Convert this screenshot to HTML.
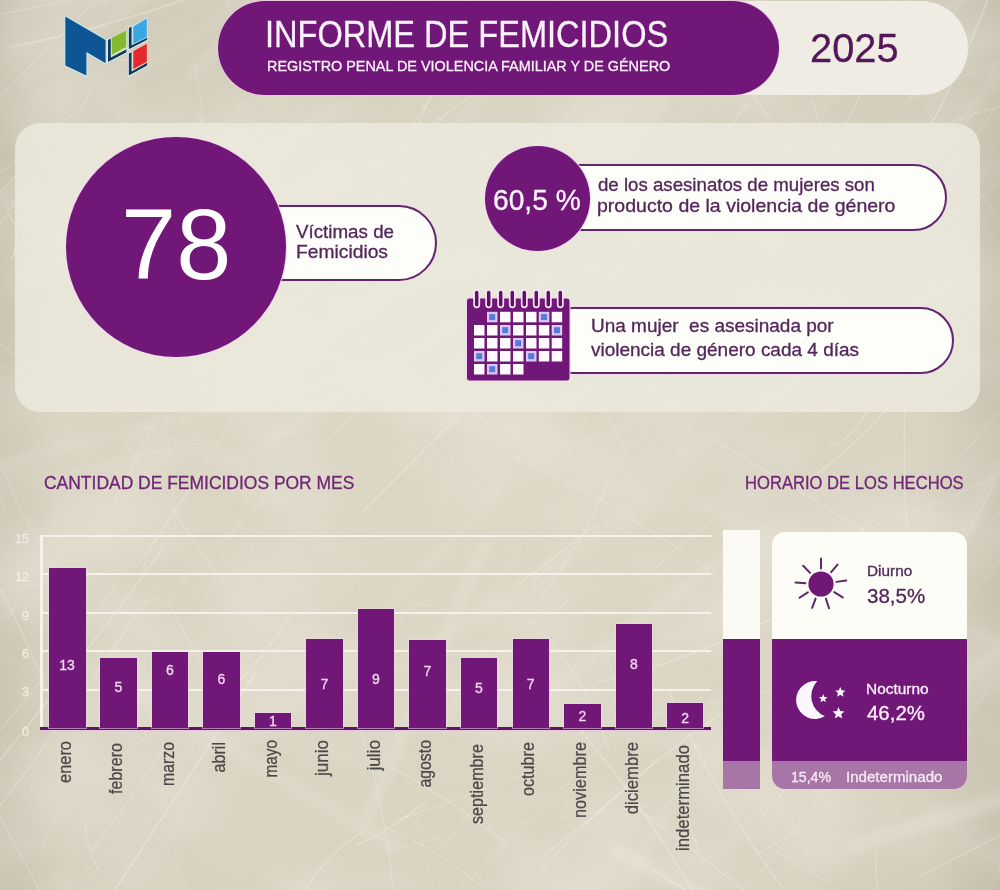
<!DOCTYPE html>
<html lang="es"><head><meta charset="utf-8"><title>Informe de Femicidios 2025</title>
<style>
html,body{margin:0;padding:0}
body{width:1000px;height:890px;position:relative;overflow:hidden;background:#d6d1c3;font-family:"Liberation Sans",sans-serif;}
.abs{position:absolute}
.t{position:absolute;white-space:nowrap;line-height:1;transform-origin:0 0}
#bg{position:absolute;left:0;top:0;width:1000px;height:890px}
.panel{position:absolute;left:15px;top:123px;width:965px;height:289px;border-radius:25px;background:rgba(236,235,223,.8)}
.pill{position:absolute;background:#fdfdf9;border:2px solid #5f2867;box-shadow:0 0 0 1px #f0d8ee;box-sizing:border-box}
.circ{position:absolute;border-radius:50%;background:#711778;box-shadow:0 0 0 1px #f3d6f1}
.bar{position:absolute;background:#711778;box-shadow:0 0 0 1px rgba(240,214,236,.55)}
.bl{position:absolute;color:#f3d6f2;font-size:14px;line-height:14px;height:14px;text-align:center;-webkit-text-stroke:0.3px #f3d6f2}
.xl{position:absolute;color:#4b4848;font-size:18px;line-height:20px;height:20px;white-space:nowrap;transform-origin:100% 50%;transform:rotate(-90deg);text-align:right;-webkit-text-stroke:0.25px #4b4848}
.yl{position:absolute;color:#efede2;font-size:12.5px;line-height:12px;width:22px;left:7px;text-align:right;-webkit-text-stroke:0.3px #efede2}
.grid{position:absolute;left:40px;width:671px;height:2px;background:#f4f2ea}
</style></head><body>
<svg id="bg" viewBox="0 0 1000 890">
<defs>
<radialGradient id="g1" cx="48%" cy="58%" r="75%"><stop offset="0" stop-color="#ddd7c6"/><stop offset="0.6" stop-color="#d9d3c2"/><stop offset="1" stop-color="#cec8b6"/></radialGradient>
<filter id="mot" x="0" y="0" width="100%" height="100%"><feTurbulence type="fractalNoise" baseFrequency="0.006 0.008" numOctaves="3" seed="11" result="n"/><feColorMatrix type="matrix" values="0 0 0 0 1  0 0 0 0 0.99  0 0 0 0 0.94  1.6 0 0 0 -0.62"/></filter>
<linearGradient id="g2" x1="0" x2="1" y1="0" y2="0"><stop offset="0" stop-color="#6b6450" stop-opacity=".10"/><stop offset="0.06" stop-color="#6b6450" stop-opacity="0"/><stop offset="0.93" stop-color="#6b6450" stop-opacity="0"/><stop offset="1" stop-color="#6b6450" stop-opacity=".12"/></linearGradient>
<filter id="bl"><feGaussianBlur stdDeviation="0.6"/></filter>
<filter id="bl2"><feGaussianBlur stdDeviation="5"/></filter>
</defs>
<rect width="1000" height="890" fill="url(#g1)"/>
<rect width="1000" height="890" fill="url(#g2)"/>
<rect width="1000" height="890" filter="url(#mot)" opacity="0.35"/>
<g filter="url(#bl2)" stroke="#f1eee3" fill="none" stroke-linecap="round">
<line x1="290" y1="134" x2="664" y2="-58" stroke-width="7" opacity="0.22"/>
<line x1="905" y1="191" x2="1014" y2="56" stroke-width="7" opacity="0.20"/>
<line x1="818" y1="110" x2="1088" y2="-100" stroke-width="7" opacity="0.23"/>
<line x1="2" y1="197" x2="201" y2="340" stroke-width="7" opacity="0.14"/>
<line x1="274" y1="726" x2="508" y2="481" stroke-width="8" opacity="0.14"/>
<line x1="698" y1="502" x2="1036" y2="662" stroke-width="10" opacity="0.18"/>
<line x1="565" y1="403" x2="727" y2="272" stroke-width="14" opacity="0.13"/>
<line x1="265" y1="441" x2="475" y2="313" stroke-width="16" opacity="0.14"/>
<line x1="389" y1="674" x2="631" y2="516" stroke-width="16" opacity="0.13"/>
<line x1="536" y1="702" x2="746" y2="540" stroke-width="11" opacity="0.26"/>
<line x1="22" y1="83" x2="323" y2="-131" stroke-width="7" opacity="0.25"/>
<line x1="629" y1="884" x2="753" y2="636" stroke-width="13" opacity="0.12"/>
<line x1="435" y1="150" x2="577" y2="-21" stroke-width="9" opacity="0.25"/>
<line x1="368" y1="816" x2="486" y2="542" stroke-width="11" opacity="0.28"/>
<line x1="810" y1="769" x2="1215" y2="519" stroke-width="13" opacity="0.19"/>
<line x1="192" y1="74" x2="355" y2="-85" stroke-width="11" opacity="0.23"/>
<line x1="226" y1="4" x2="404" y2="-299" stroke-width="9" opacity="0.14"/>
<line x1="852" y1="846" x2="1012" y2="796" stroke-width="15" opacity="0.26"/>
<line x1="868" y1="710" x2="1001" y2="464" stroke-width="11" opacity="0.19"/>
<line x1="150" y1="876" x2="259" y2="638" stroke-width="7" opacity="0.12"/>
<line x1="109" y1="90" x2="254" y2="-4" stroke-width="8" opacity="0.19"/>
<line x1="616" y1="850" x2="785" y2="939" stroke-width="14" opacity="0.30"/>
<line x1="439" y1="431" x2="663" y2="102" stroke-width="13" opacity="0.21"/>
<line x1="677" y1="460" x2="949" y2="284" stroke-width="7" opacity="0.22"/>
<line x1="-22" y1="470" x2="347" y2="377" stroke-width="9" opacity="0.19"/>
<line x1="125" y1="687" x2="397" y2="848" stroke-width="12" opacity="0.23"/>
</g>
<g filter="url(#bl)" stroke="#f4f1e8" fill="none" stroke-linecap="round">
<path d="M771,705 Q858,582 927,478" stroke-width="1.2" opacity="0.23"/>
<path d="M-49,26 Q-7,-2 27,-19" stroke-width="1.5" opacity="0.34"/>
<path d="M297,906 Q319,859 362,832" stroke-width="1.3" opacity="0.39"/>
<path d="M828,446 Q853,441 868,408" stroke-width="1.5" opacity="0.35"/>
<path d="M436,166 Q537,38 622,-87" stroke-width="1.4" opacity="0.15"/>
<path d="M92,924 Q185,785 256,671" stroke-width="1.5" opacity="0.41"/>
<path d="M630,326 Q658,330 665,317" stroke-width="0.7" opacity="0.34"/>
<path d="M70,917 Q88,872 123,841" stroke-width="0.9" opacity="0.30"/>
<path d="M200,390 Q305,308 381,214" stroke-width="1.5" opacity="0.28"/>
<path d="M813,817 Q870,758 962,703" stroke-width="0.8" opacity="0.12"/>
<path d="M783,160 Q783,196 814,218" stroke-width="1.2" opacity="0.26"/>
<path d="M759,821 Q800,775 823,728" stroke-width="1.2" opacity="0.35"/>
<path d="M905,412 Q901,510 918,624" stroke-width="1.2" opacity="0.36"/>
<path d="M468,230 Q614,206 777,177" stroke-width="1.6" opacity="0.37"/>
<path d="M68,113 Q128,200 193,308" stroke-width="0.9" opacity="0.16"/>
<path d="M759,874 Q865,746 937,638" stroke-width="1.6" opacity="0.24"/>
<path d="M446,921 Q481,843 514,776" stroke-width="0.8" opacity="0.22"/>
<path d="M700,18 Q812,-14 932,-47" stroke-width="0.9" opacity="0.41"/>
<path d="M42,854 Q52,813 79,805" stroke-width="1.5" opacity="0.20"/>
<path d="M60,393 Q142,343 223,293" stroke-width="1.0" opacity="0.20"/>
<path d="M784,171 Q780,149 807,144" stroke-width="1.3" opacity="0.19"/>
<path d="M206,113 Q278,25 320,-46" stroke-width="0.7" opacity="0.28"/>
<path d="M178,102 Q225,79 241,46" stroke-width="1.2" opacity="0.18"/>
<path d="M401,625 Q407,598 431,606" stroke-width="1.4" opacity="0.29"/>
<path d="M125,442 Q202,554 285,666" stroke-width="1.5" opacity="0.24"/>
<path d="M467,640 Q540,521 598,392" stroke-width="1.0" opacity="0.22"/>
<path d="M-21,121 Q83,4 193,-81" stroke-width="1.3" opacity="0.23"/>
<path d="M466,903 Q479,948 494,1018" stroke-width="1.1" opacity="0.20"/>
<path d="M959,905 Q992,888 997,892" stroke-width="0.8" opacity="0.22"/>
<path d="M11,259 Q54,153 128,24" stroke-width="0.8" opacity="0.30"/>
<path d="M345,279 Q423,122 475,-11" stroke-width="1.6" opacity="0.36"/>
<path d="M564,711 Q640,796 706,914" stroke-width="1.5" opacity="0.39"/>
<path d="M598,682 Q686,662 773,618" stroke-width="1.5" opacity="0.37"/>
<path d="M551,830 Q564,827 568,792" stroke-width="1.0" opacity="0.26"/>
<path d="M-25,18 Q43,9 147,-21" stroke-width="1.4" opacity="0.27"/>
<path d="M498,613 Q574,569 627,499" stroke-width="0.9" opacity="0.35"/>
<path d="M169,604 Q205,674 242,730" stroke-width="1.4" opacity="0.31"/>
<path d="M614,72 Q707,3 786,-74" stroke-width="0.7" opacity="0.26"/>
<path d="M445,904 Q523,827 617,748" stroke-width="1.1" opacity="0.26"/>
<path d="M48,831 Q60,799 74,782" stroke-width="0.7" opacity="0.27"/>
<path d="M994,924 Q1118,1008 1263,1086" stroke-width="0.8" opacity="0.28"/>
<path d="M949,123 Q974,113 1010,104" stroke-width="1.6" opacity="0.24"/>
<path d="M92,883 Q153,985 221,1095" stroke-width="0.7" opacity="0.22"/>
<path d="M271,315 Q412,405 538,467" stroke-width="0.9" opacity="0.23"/>
<path d="M344,929 Q396,1090 429,1225" stroke-width="0.9" opacity="0.14"/>
<path d="M635,591 Q676,543 717,518" stroke-width="1.0" opacity="0.41"/>
<path d="M875,755 Q995,865 1111,959" stroke-width="0.7" opacity="0.34"/>
<path d="M407,700 Q540,612 669,547" stroke-width="1.1" opacity="0.20"/>
<path d="M196,687 Q239,667 283,634" stroke-width="0.7" opacity="0.31"/>
<path d="M1,466 Q36,547 82,610" stroke-width="1.1" opacity="0.28"/>
<path d="M184,162 Q222,147 279,126" stroke-width="1.6" opacity="0.34"/>
<path d="M366,385 Q427,367 471,349" stroke-width="1.2" opacity="0.23"/>
<path d="M662,492 Q719,361 785,220" stroke-width="1.1" opacity="0.21"/>
<path d="M799,900 Q900,814 973,730" stroke-width="1.2" opacity="0.12"/>
<path d="M343,862 Q492,820 660,806" stroke-width="0.8" opacity="0.28"/>
<path d="M657,876 Q716,969 811,1089" stroke-width="1.2" opacity="0.13"/>
<path d="M692,895 Q772,841 832,815" stroke-width="0.9" opacity="0.40"/>
<path d="M127,243 Q173,326 183,426" stroke-width="0.9" opacity="0.37"/>
<path d="M182,489 Q340,432 483,388" stroke-width="0.6" opacity="0.27"/>
<path d="M648,391 Q709,347 779,303" stroke-width="1.4" opacity="0.34"/>
<path d="M311,369 Q396,265 480,182" stroke-width="1.7" opacity="0.21"/>
<path d="M806,215 Q858,87 939,-50" stroke-width="1.3" opacity="0.39"/>
<path d="M444,847 Q466,810 495,794" stroke-width="1.7" opacity="0.16"/>
<path d="M-24,56 Q70,111 177,193" stroke-width="0.7" opacity="0.17"/>
<path d="M126,607 Q151,598 165,599" stroke-width="1.0" opacity="0.22"/>
<path d="M103,3 Q180,-41 229,-89" stroke-width="1.4" opacity="0.23"/>
<path d="M750,287 Q845,348 961,405" stroke-width="1.1" opacity="0.22"/>
<path d="M716,441 Q806,494 902,555" stroke-width="1.1" opacity="0.36"/>
<path d="M-13,181 Q30,156 89,98" stroke-width="1.3" opacity="0.20"/>
<path d="M694,294 Q801,239 901,161" stroke-width="1.6" opacity="0.14"/>
<path d="M812,100 Q832,164 871,233" stroke-width="1.1" opacity="0.40"/>
<path d="M118,746 Q240,684 354,634" stroke-width="1.0" opacity="0.23"/>
<path d="M765,73 Q780,45 802,5" stroke-width="1.1" opacity="0.28"/>
<path d="M94,397 Q122,348 180,329" stroke-width="1.1" opacity="0.33"/>
<path d="M403,218 Q516,303 648,386" stroke-width="1.5" opacity="0.35"/>
<path d="M762,273 Q833,228 886,204" stroke-width="0.9" opacity="0.19"/>
<path d="M86,822 Q83,837 98,870" stroke-width="1.2" opacity="0.31"/>
<path d="M29,431 Q86,371 121,286" stroke-width="1.6" opacity="0.13"/>
<path d="M237,111 Q299,-23 382,-127" stroke-width="1.2" opacity="0.17"/>
<path d="M571,721 Q632,622 683,545" stroke-width="1.0" opacity="0.16"/>
<path d="M140,237 Q169,400 176,539" stroke-width="1.0" opacity="0.23"/>
<path d="M591,72 Q640,-14 721,-72" stroke-width="1.0" opacity="0.29"/>
<path d="M610,85 Q671,55 696,14" stroke-width="1.1" opacity="0.14"/>
<path d="M725,822 Q863,897 965,983" stroke-width="0.8" opacity="0.34"/>
<path d="M140,5 Q244,-68 354,-169" stroke-width="1.1" opacity="0.17"/>
<path d="M-64,513 Q26,566 125,619" stroke-width="0.8" opacity="0.20"/>
<path d="M483,861 Q581,779 659,675" stroke-width="0.9" opacity="0.37"/>
<path d="M-33,849 Q53,739 147,599" stroke-width="1.3" opacity="0.37"/>
<path d="M93,731 Q138,639 206,548" stroke-width="1.2" opacity="0.13"/>
<path d="M934,146 Q973,118 996,62" stroke-width="0.6" opacity="0.29"/>
<path d="M738,35 Q802,-44 863,-133" stroke-width="0.9" opacity="0.25"/>
<path d="M549,396 Q585,340 656,275" stroke-width="1.1" opacity="0.19"/>
<path d="M745,725 Q799,833 861,972" stroke-width="1.0" opacity="0.23"/>
<path d="M786,469 Q820,433 823,410" stroke-width="1.4" opacity="0.14"/>
<path d="M732,832 Q754,822 768,797" stroke-width="0.7" opacity="0.16"/>
<path d="M877,268 Q967,208 1077,125" stroke-width="1.3" opacity="0.20"/>
<path d="M270,571 Q337,634 373,719" stroke-width="0.9" opacity="0.27"/>
<path d="M265,34 Q342,-42 435,-106" stroke-width="1.0" opacity="0.36"/>
<path d="M205,714 Q263,664 294,609" stroke-width="1.2" opacity="0.38"/>
<path d="M33,923 Q84,963 144,1011" stroke-width="0.8" opacity="0.22"/>
<path d="M8,214 Q22,227 13,258" stroke-width="1.3" opacity="0.42"/>
<path d="M553,617 Q633,520 733,438" stroke-width="1.3" opacity="0.25"/>
<path d="M313,44 Q359,120 439,232" stroke-width="1.0" opacity="0.15"/>
<path d="M306,209 Q309,255 321,277" stroke-width="0.8" opacity="0.12"/>
<path d="M786,658 Q864,758 915,838" stroke-width="1.0" opacity="0.20"/>
<path d="M-68,600 Q38,586 138,565" stroke-width="1.2" opacity="0.27"/>
<path d="M98,0 Q136,-75 193,-119" stroke-width="1.5" opacity="0.12"/>
<path d="M515,875 Q592,822 659,758" stroke-width="1.1" opacity="0.30"/>
<path d="M469,59 Q556,-27 644,-116" stroke-width="1.0" opacity="0.25"/>
<path d="M905,75 Q990,216 1092,346" stroke-width="0.7" opacity="0.39"/>
<path d="M919,877 Q970,850 1017,827" stroke-width="1.5" opacity="0.28"/>
<path d="M207,597 Q232,529 281,431" stroke-width="1.5" opacity="0.18"/>
<path d="M92,851 Q120,813 166,746" stroke-width="1.3" opacity="0.33"/>
<path d="M638,910 Q669,975 734,1074" stroke-width="1.7" opacity="0.19"/>
<path d="M876,734 Q912,737 918,766" stroke-width="0.6" opacity="0.15"/>
<path d="M923,321 Q926,315 955,298" stroke-width="0.6" opacity="0.14"/>
<path d="M-30,797 Q69,677 164,547" stroke-width="1.6" opacity="0.35"/>
<path d="M688,357 Q685,341 716,300" stroke-width="1.5" opacity="0.31"/>
<path d="M811,587 Q852,575 871,552" stroke-width="0.9" opacity="0.22"/>
<path d="M202,326 Q321,260 410,174" stroke-width="1.3" opacity="0.26"/>
<path d="M231,693 Q298,737 394,782" stroke-width="0.7" opacity="0.29"/>
<path d="M692,770 Q677,800 699,851" stroke-width="1.4" opacity="0.41"/>
<path d="M-75,456 Q5,583 52,703" stroke-width="1.7" opacity="0.27"/>
<path d="M544,148 Q562,123 603,67" stroke-width="1.4" opacity="0.27"/>
<path d="M990,522 Q1037,471 1090,428" stroke-width="1.6" opacity="0.15"/>
<path d="M880,23 Q917,-59 952,-117" stroke-width="1.7" opacity="0.31"/>
<path d="M939,118 Q959,240 968,372" stroke-width="1.0" opacity="0.17"/>
<path d="M831,616 Q889,554 929,487" stroke-width="0.7" opacity="0.26"/>
<path d="M876,221 Q945,111 991,-8" stroke-width="1.4" opacity="0.41"/>
<path d="M701,561 Q729,527 779,458" stroke-width="1.4" opacity="0.15"/>
<path d="M959,95 Q984,106 1024,132" stroke-width="0.9" opacity="0.15"/>
<path d="M904,261 Q931,268 932,280" stroke-width="0.8" opacity="0.41"/>
<path d="M240,21 Q315,-1 373,-52" stroke-width="1.1" opacity="0.29"/>
<path d="M729,392 Q803,301 850,201" stroke-width="1.2" opacity="0.19"/>
<path d="M116,116 Q194,171 301,233" stroke-width="1.5" opacity="0.33"/>
<path d="M600,233 Q628,243 629,253" stroke-width="1.3" opacity="0.38"/>
<path d="M886,305 Q956,217 991,163" stroke-width="1.2" opacity="0.17"/>
<path d="M764,875 Q899,822 1036,791" stroke-width="1.1" opacity="0.12"/>
<path d="M776,344 Q868,232 981,106" stroke-width="1.0" opacity="0.35"/>
<path d="M52,916 Q85,862 126,839" stroke-width="0.7" opacity="0.39"/>
<path d="M599,628 Q619,691 621,722" stroke-width="1.2" opacity="0.19"/>
<path d="M786,365 Q836,236 918,85" stroke-width="0.8" opacity="0.31"/>
<path d="M698,758 Q795,698 868,615" stroke-width="1.1" opacity="0.21"/>
<path d="M512,116 Q579,233 663,358" stroke-width="0.9" opacity="0.25"/>
<path d="M121,3 Q210,-58 313,-117" stroke-width="1.3" opacity="0.15"/>
<path d="M889,142 Q922,147 931,122" stroke-width="1.5" opacity="0.16"/>
<path d="M818,589 Q832,546 878,518" stroke-width="1.3" opacity="0.29"/>
<path d="M843,173 Q877,215 883,237" stroke-width="0.8" opacity="0.39"/>
<path d="M577,727 Q704,707 854,673" stroke-width="1.2" opacity="0.34"/>
<path d="M394,821 Q478,793 540,767" stroke-width="1.2" opacity="0.27"/>
<path d="M898,651 Q959,551 994,485" stroke-width="1.5" opacity="0.26"/>
<path d="M528,619 Q585,670 609,751" stroke-width="1.3" opacity="0.31"/>
<path d="M-49,567 Q-29,556 -7,527" stroke-width="0.8" opacity="0.18"/>
<path d="M369,118 Q422,74 476,28" stroke-width="1.4" opacity="0.18"/>
<path d="M390,393 Q439,371 499,350" stroke-width="1.0" opacity="0.42"/>
<path d="M863,321 Q928,201 1005,94" stroke-width="0.9" opacity="0.30"/>
<path d="M606,729 Q661,653 723,572" stroke-width="1.0" opacity="0.15"/>
<path d="M-30,764 Q35,879 79,964" stroke-width="1.3" opacity="0.31"/>
<path d="M597,648 Q583,680 601,702" stroke-width="1.3" opacity="0.17"/>
<path d="M637,808 Q761,899 874,999" stroke-width="1.5" opacity="0.36"/>
<path d="M527,240 Q526,231 560,217" stroke-width="1.2" opacity="0.39"/>
<path d="M458,486 Q523,431 575,383" stroke-width="0.7" opacity="0.32"/>
<path d="M561,924 Q607,881 682,828" stroke-width="0.8" opacity="0.17"/>
<path d="M-63,4 Q40,-98 163,-173" stroke-width="1.1" opacity="0.20"/>
<path d="M535,419 Q603,389 653,345" stroke-width="0.8" opacity="0.35"/>
<path d="M237,518 Q306,669 394,785" stroke-width="1.4" opacity="0.12"/>
<path d="M-64,605 Q-39,652 -30,724" stroke-width="1.5" opacity="0.27"/>
<path d="M-15,342 Q-17,443 5,512" stroke-width="0.7" opacity="0.41"/>
<path d="M97,746 Q183,869 236,972" stroke-width="1.2" opacity="0.21"/>
<path d="M-15,906 Q25,1021 31,1113" stroke-width="1.3" opacity="0.21"/>
<path d="M383,826 Q452,856 502,905" stroke-width="1.1" opacity="0.33"/>
<path d="M267,249 Q391,151 487,85" stroke-width="1.5" opacity="0.36"/>
<path d="M857,532 Q982,489 1104,425" stroke-width="1.1" opacity="0.28"/>
<path d="M503,451 Q628,507 722,581" stroke-width="1.3" opacity="0.32"/>
<path d="M423,192 Q433,186 451,176" stroke-width="1.2" opacity="0.23"/>
<path d="M-12,370 Q134,345 279,322" stroke-width="1.2" opacity="0.18"/>
<path d="M128,168 Q209,116 297,63" stroke-width="0.8" opacity="0.13"/>
<path d="M997,348 Q1040,280 1113,225" stroke-width="0.6" opacity="0.20"/>
<path d="M576,87 Q662,-26 750,-144" stroke-width="0.9" opacity="0.35"/>
<path d="M380,880 Q387,1022 411,1198" stroke-width="0.8" opacity="0.17"/>
<path d="M10,47 Q126,25 242,-23" stroke-width="1.6" opacity="0.38"/>
<path d="M611,858 Q682,800 743,709" stroke-width="1.3" opacity="0.24"/>
<path d="M404,149 Q417,101 462,71" stroke-width="1.0" opacity="0.39"/>
<path d="M897,779 Q958,712 1001,627" stroke-width="1.1" opacity="0.15"/>
<path d="M263,5 Q299,-36 327,-96" stroke-width="0.7" opacity="0.22"/>
<path d="M198,115 Q251,199 283,254" stroke-width="1.6" opacity="0.26"/>
<path d="M906,743 Q962,731 987,692" stroke-width="1.6" opacity="0.16"/>
<path d="M403,90 Q485,154 571,230" stroke-width="1.5" opacity="0.26"/>
<path d="M598,133 Q620,112 645,63" stroke-width="1.1" opacity="0.16"/>
<path d="M372,229 Q446,102 533,-2" stroke-width="1.1" opacity="0.22"/>
<path d="M895,106 Q1041,42 1174,-2" stroke-width="1.1" opacity="0.21"/>
<path d="M198,188 Q225,137 270,106" stroke-width="1.0" opacity="0.24"/>
<path d="M95,774 Q184,711 277,647" stroke-width="1.2" opacity="0.25"/>
<path d="M773,878 Q854,822 905,787" stroke-width="1.2" opacity="0.16"/>
<path d="M115,717 Q120,702 154,680" stroke-width="1.1" opacity="0.20"/>
<path d="M143,570 Q150,539 189,492" stroke-width="1.0" opacity="0.34"/>
<path d="M-20,754 Q66,653 119,581" stroke-width="1.1" opacity="0.35"/>
<path d="M64,619 Q120,481 185,367" stroke-width="1.0" opacity="0.30"/>
<path d="M-75,483 Q-70,498 -55,531" stroke-width="1.5" opacity="0.39"/>
<path d="M761,807 Q778,848 767,855" stroke-width="1.1" opacity="0.27"/>
<path d="M493,500 Q513,464 525,453" stroke-width="0.9" opacity="0.29"/>
<path d="M952,18 Q1020,-109 1078,-233" stroke-width="0.9" opacity="0.25"/>
<path d="M299,87 Q322,64 347,41" stroke-width="0.9" opacity="0.16"/>
<path d="M358,127 Q376,174 382,223" stroke-width="1.0" opacity="0.40"/>
<path d="M-60,591 Q8,670 110,716" stroke-width="0.7" opacity="0.23"/>
<path d="M353,780 Q447,837 506,907" stroke-width="1.0" opacity="0.29"/>
<path d="M271,136 Q324,70 368,14" stroke-width="1.2" opacity="0.14"/>
<path d="M388,469 Q428,423 475,340" stroke-width="1.1" opacity="0.13"/>
<path d="M979,905 Q1028,817 1095,715" stroke-width="0.9" opacity="0.28"/>
<path d="M918,578 Q923,551 946,558" stroke-width="0.7" opacity="0.22"/>
<path d="M100,56 Q131,67 155,47" stroke-width="1.1" opacity="0.27"/>
<path d="M876,851 Q873,903 899,952" stroke-width="1.5" opacity="0.30"/>
<path d="M536,605 Q586,538 607,484" stroke-width="1.1" opacity="0.37"/>
<path d="M-47,310 Q-7,230 26,185" stroke-width="1.0" opacity="0.38"/>
<path d="M178,518 Q248,625 338,763" stroke-width="0.6" opacity="0.29"/>
<path d="M574,324 Q656,223 748,103" stroke-width="1.2" opacity="0.42"/>
<path d="M652,869 Q715,909 766,942" stroke-width="1.5" opacity="0.37"/>
<path d="M479,687 Q544,786 599,870" stroke-width="1.1" opacity="0.15"/>
<path d="M363,511 Q479,396 589,286" stroke-width="1.5" opacity="0.38"/>
<path d="M576,353 Q597,399 629,456" stroke-width="1.2" opacity="0.30"/>
<path d="M620,6 Q653,68 683,108" stroke-width="1.1" opacity="0.23"/>
<path d="M170,764 Q273,672 351,546" stroke-width="0.8" opacity="0.25"/>
<path d="M903,10 Q981,-112 1073,-236" stroke-width="0.9" opacity="0.31"/>
<path d="M392,768 Q453,800 507,844" stroke-width="1.6" opacity="0.32"/>
<path d="M487,92 Q578,-4 638,-75" stroke-width="0.8" opacity="0.25"/>
<path d="M354,714 Q385,794 394,898" stroke-width="0.9" opacity="0.41"/>
<path d="M812,477 Q850,452 899,396" stroke-width="1.2" opacity="0.41"/>
<path d="M602,487 Q739,423 883,390" stroke-width="1.2" opacity="0.15"/>
<path d="M535,587 Q528,582 557,562" stroke-width="1.2" opacity="0.40"/>
<path d="M349,92 Q378,60 407,24" stroke-width="0.9" opacity="0.31"/>
<path d="M494,927 Q507,1030 546,1131" stroke-width="1.2" opacity="0.13"/>
<path d="M2,881 Q59,962 94,1075" stroke-width="0.6" opacity="0.35"/>
<path d="M269,665 Q286,663 294,634" stroke-width="1.6" opacity="0.14"/>
<path d="M127,580 Q208,471 283,328" stroke-width="1.1" opacity="0.31"/>
<path d="M189,41 Q209,114 200,165" stroke-width="0.9" opacity="0.30"/>
<path d="M957,461 Q1013,396 1054,351" stroke-width="0.9" opacity="0.38"/>
<path d="M443,737 Q455,683 476,663" stroke-width="1.6" opacity="0.24"/>
<path d="M312,312 Q423,370 502,433" stroke-width="1.6" opacity="0.29"/>
<path d="M338,434 Q357,413 363,403" stroke-width="0.8" opacity="0.33"/>
<path d="M20,251 Q98,190 155,148" stroke-width="1.0" opacity="0.18"/>
<path d="M358,585 Q396,728 434,891" stroke-width="1.1" opacity="0.16"/>
<path d="M683,243 Q708,308 751,366" stroke-width="0.8" opacity="0.38"/>
<path d="M53,477 Q186,438 300,433" stroke-width="1.4" opacity="0.16"/>
<path d="M-64,661 Q-34,647 19,605" stroke-width="0.7" opacity="0.39"/>
<path d="M790,705 Q805,636 840,593" stroke-width="1.4" opacity="0.20"/>
<path d="M356,845 Q386,834 426,801" stroke-width="1.4" opacity="0.39"/>
<path d="M-53,655 Q20,778 104,891" stroke-width="0.8" opacity="0.15"/>
<path d="M906,683 Q967,607 1033,512" stroke-width="0.8" opacity="0.34"/>
<path d="M517,585 Q556,556 595,526" stroke-width="1.6" opacity="0.32"/>
<path d="M541,870 Q634,769 742,700" stroke-width="1.5" opacity="0.30"/>
<path d="M-29,227 Q20,173 49,129" stroke-width="1.6" opacity="0.25"/>
<path d="M723,928 Q714,1001 734,1042" stroke-width="1.1" opacity="0.40"/>
<path d="M667,687 Q714,794 783,889" stroke-width="1.5" opacity="0.35"/>
<path d="M449,176 Q558,150 633,115" stroke-width="1.2" opacity="0.19"/>
<path d="M-16,333 Q67,394 177,441" stroke-width="1.1" opacity="0.26"/>
<path d="M682,5 Q753,83 810,187" stroke-width="1.4" opacity="0.30"/>
<path d="M180,585 Q260,501 365,405" stroke-width="1.3" opacity="0.26"/>
<path d="M747,773 Q759,745 772,750" stroke-width="1.6" opacity="0.21"/>
<path d="M39,287 Q95,217 145,163" stroke-width="1.2" opacity="0.13"/>
<path d="M426,911 Q515,1013 569,1110" stroke-width="0.7" opacity="0.27"/>
</g>
</svg>
<div class="abs" style="left:218px;top:1px;width:750px;height:94px;border-radius:47px;background:#eeece3"></div>
<div class="abs" style="left:218px;top:1px;width:561px;height:94px;border-radius:47px;background:#711778;box-shadow:0 0 0 1px rgba(240,200,236,.7)"></div>
<div class="t" id="title" style="left:265.40px;top:15.80px;font-size:37.8px;color:#fbf3fb;-webkit-text-stroke:0.3px #fbf3fb;transform:scaleX(0.8610);">INFORME DE FEMICIDIOS</div>
<div class="t" id="subtitle" style="left:267.40px;top:58.22px;font-size:15.1px;color:#fbf3fb;-webkit-text-stroke:0.3px #fbf3fb;transform:scaleX(0.9545);">REGISTRO PENAL DE VIOLENCIA FAMILIAR Y DE GÉNERO</div>
<div class="t" id="year" style="left:810.20px;top:27.69px;font-size:41px;color:#541659;-webkit-text-stroke:0.3px #541659;transform:scaleX(0.9703);">2025</div>
<svg class="abs" style="left:60px;top:10px" width="100" height="75" viewBox="60 10 100 75">
<polygon points="65.3,16.5 105.6,40 105.6,63.2 86.4,52 86.4,75.5 65.3,65.6" fill="#0d5594" stroke="#cfeaf6" stroke-width="1.8" paint-order="stroke"/>
<g stroke="#e6f2f7" stroke-width="1.6" paint-order="stroke" fill="#0f3b58">
<polygon points="108,40 110.8,38.6 110.8,57.6 126.5,49.3 126.5,52.3 108,62"/>
<polygon points="128.8,28 131.6,26.6 131.6,45.2 147.2,37 147.2,39.8 128.8,49.2"/>
<polygon points="128.8,53.4 131.6,52 131.6,71.6 147.2,62.6 147.2,65.4 128.8,75.6"/>
</g>
<polygon points="111.8,37.8 126.1,30.6 126.1,47.1 111.8,54.7" fill="#84b930" stroke="#d5ecc0" stroke-width="1.4" paint-order="stroke"/>
<polygon points="133.3,26.4 146.8,18.4 146.8,37 133.3,43.7" fill="#3aa7e2" stroke="#c9e9f7" stroke-width="1.4" paint-order="stroke"/>
<polygon points="133.3,51.3 146.8,43.7 146.8,61.8 133.3,69" fill="#e6292e" stroke="#f5c6c4" stroke-width="1.4" paint-order="stroke"/>
</svg>
<div class="panel"></div>
<div class="pill" style="left:240px;top:205px;width:197px;height:76px;border-radius:38px"></div>
<div class="circ" style="left:66px;top:137px;width:220px;height:220px"></div>
<div class="t" id="n78" style="left:121.30px;top:193.93px;font-size:100.5px;color:#fff;transform:scaleX(0.9867);">78</div>
<div class="t" id="vic1" style="left:295.60px;top:222.74px;font-size:18.5px;color:#53265a;-webkit-text-stroke:0.3px #53265a;transform:scaleX(1.0140);">Víctimas de</div>
<div class="t" id="vic2" style="left:295.60px;top:243.14px;font-size:18.5px;color:#53265a;-webkit-text-stroke:0.3px #53265a;transform:scaleX(1.0406);">Femicidios</div>
<div class="pill" style="left:520px;top:164px;width:427px;height:66.5px;border-radius:34px"></div>
<div class="circ" style="left:484.5px;top:146.2px;width:105px;height:105px"></div>
<div class="t" id="p605" style="left:493.30px;top:185.00px;font-size:30px;color:#fdf5fd;-webkit-text-stroke:0.3px #fdf5fd;transform:scaleX(0.9390);">60,5 %</div>
<div class="t" id="t1a" style="left:597.80px;top:175.92px;font-size:18.4px;color:#53265a;-webkit-text-stroke:0.3px #53265a;transform:scaleX(1.0143);">de los asesinatos de mujeres son</div>
<div class="t" id="t1b" style="left:597.20px;top:196.72px;font-size:18.4px;color:#53265a;-webkit-text-stroke:0.3px #53265a;transform:scaleX(1.0615);">producto de la violencia de género</div>
<div class="pill" style="left:540px;top:307px;width:414px;height:66.5px;border-radius:33.5px"></div>
<div class="t" id="t2a" style="left:590.60px;top:317.34px;font-size:18.5px;color:#53265a;white-space:pre;-webkit-text-stroke:0.3px #53265a;transform:scaleX(1.0261);">Una mujer  es asesinada por</div>
<div class="t" id="t2b" style="left:591.40px;top:341.34px;font-size:18.5px;color:#53265a;-webkit-text-stroke:0.3px #53265a;transform:scaleX(1.0259);">violencia de género cada 4 días</div>
<svg class="abs" style="left:460px;top:285px" width="116" height="100" viewBox="460 285 116 100"><rect x="466.5" y="298" width="103.5" height="83" rx="3" fill="#711778" stroke="#f3d6f1" stroke-width="1"/><rect x="474.1" y="289.8" width="5.2" height="17.6" rx="2.6" fill="#5d1265" stroke="#f9e4f7" stroke-width="1.7"/><rect x="486.1" y="289.8" width="5.2" height="17.6" rx="2.6" fill="#5d1265" stroke="#f9e4f7" stroke-width="1.7"/><rect x="498.1" y="289.8" width="5.2" height="17.6" rx="2.6" fill="#5d1265" stroke="#f9e4f7" stroke-width="1.7"/><rect x="509.7" y="289.8" width="5.2" height="17.6" rx="2.6" fill="#5d1265" stroke="#f9e4f7" stroke-width="1.7"/><rect x="521.7" y="289.8" width="5.2" height="17.6" rx="2.6" fill="#5d1265" stroke="#f9e4f7" stroke-width="1.7"/><rect x="533.7" y="289.8" width="5.2" height="17.6" rx="2.6" fill="#5d1265" stroke="#f9e4f7" stroke-width="1.7"/><rect x="545.7" y="289.8" width="5.2" height="17.6" rx="2.6" fill="#5d1265" stroke="#f9e4f7" stroke-width="1.7"/><rect x="557.7" y="289.8" width="5.2" height="17.6" rx="2.6" fill="#5d1265" stroke="#f9e4f7" stroke-width="1.7"/><rect x="487.0" y="311.8" width="10.5" height="10.5" fill="#d9c9f3"/><rect x="489.2" y="314.1" width="6" height="6" fill="#5a79dd"/><rect x="500.0" y="311.8" width="10.5" height="10.5" fill="#fdfbfd"/><rect x="513.0" y="311.8" width="10.5" height="10.5" fill="#fdfbfd"/><rect x="526.0" y="311.8" width="10.5" height="10.5" fill="#fdfbfd"/><rect x="538.8" y="311.8" width="10.5" height="10.5" fill="#d9c9f3"/><rect x="541.0" y="314.1" width="6" height="6" fill="#5a79dd"/><rect x="551.7" y="311.8" width="10.5" height="10.5" fill="#fdfbfd"/><rect x="474.0" y="325.0" width="10.5" height="10.5" fill="#fdfbfd"/><rect x="487.0" y="325.0" width="10.5" height="10.5" fill="#fdfbfd"/><rect x="500.0" y="325.0" width="10.5" height="10.5" fill="#d9c9f3"/><rect x="502.2" y="327.2" width="6" height="6" fill="#5a79dd"/><rect x="513.0" y="325.0" width="10.5" height="10.5" fill="#fdfbfd"/><rect x="526.0" y="325.0" width="10.5" height="10.5" fill="#fdfbfd"/><rect x="538.8" y="325.0" width="10.5" height="10.5" fill="#fdfbfd"/><rect x="551.7" y="325.0" width="10.5" height="10.5" fill="#d9c9f3"/><rect x="554.0" y="327.2" width="6" height="6" fill="#5a79dd"/><rect x="474.0" y="338.0" width="10.5" height="10.5" fill="#fdfbfd"/><rect x="487.0" y="338.0" width="10.5" height="10.5" fill="#fdfbfd"/><rect x="500.0" y="338.0" width="10.5" height="10.5" fill="#fdfbfd"/><rect x="513.0" y="338.0" width="10.5" height="10.5" fill="#d9c9f3"/><rect x="515.2" y="340.2" width="6" height="6" fill="#5a79dd"/><rect x="526.0" y="338.0" width="10.5" height="10.5" fill="#fdfbfd"/><rect x="538.8" y="338.0" width="10.5" height="10.5" fill="#fdfbfd"/><rect x="551.7" y="338.0" width="10.5" height="10.5" fill="#fdfbfd"/><rect x="474.0" y="351.0" width="10.5" height="10.5" fill="#d9c9f3"/><rect x="476.2" y="353.2" width="6" height="6" fill="#5a79dd"/><rect x="487.0" y="351.0" width="10.5" height="10.5" fill="#fdfbfd"/><rect x="500.0" y="351.0" width="10.5" height="10.5" fill="#fdfbfd"/><rect x="513.0" y="351.0" width="10.5" height="10.5" fill="#fdfbfd"/><rect x="526.0" y="351.0" width="10.5" height="10.5" fill="#d9c9f3"/><rect x="528.2" y="353.2" width="6" height="6" fill="#5a79dd"/><rect x="538.8" y="351.0" width="10.5" height="10.5" fill="#fdfbfd"/><rect x="551.7" y="351.0" width="10.5" height="10.5" fill="#fdfbfd"/><rect x="474.0" y="364.0" width="10.5" height="10.5" fill="#fdfbfd"/><rect x="487.0" y="364.0" width="10.5" height="10.5" fill="#d9c9f3"/><rect x="489.2" y="366.2" width="6" height="6" fill="#5a79dd"/><rect x="500.0" y="364.0" width="10.5" height="10.5" fill="#fdfbfd"/><rect x="513.0" y="364.0" width="10.5" height="10.5" fill="#fdfbfd"/></svg>
<div class="t" id="h1" style="left:43.60px;top:473.25px;font-size:19.2px;color:#6f2676;-webkit-text-stroke:0.3px #6f2676;transform:scaleX(0.9099);">CANTIDAD DE FEMICIDIOS POR MES</div>
<div class="t" id="h2" style="left:745.20px;top:473.25px;font-size:19.2px;color:#6f2676;-webkit-text-stroke:0.3px #6f2676;transform:scaleX(0.8654);">HORARIO DE LOS HECHOS</div>
<div class="grid" style="top:535px"></div><div class="grid" style="top:573px"></div><div class="grid" style="top:612px"></div><div class="grid" style="top:650px"></div><div class="grid" style="top:689px"></div><div class="abs" style="left:40px;top:535px;width:2.5px;height:193px;background:#f4f2ea"></div>
<div class="yl" style="top:532.7px">15</div><div class="yl" style="top:571.0px">12</div><div class="yl" style="top:609.6px">9</div><div class="yl" style="top:647.8px">6</div><div class="yl" style="top:686.3px">3</div><div class="yl" style="top:725.5px">0</div>
<div class="abs" style="left:40px;top:727px;width:671px;height:2.5px;background:#5f1466;box-shadow:0 1px 1px rgba(238,190,232,.7)"></div>
<div class="bar" style="left:48.75px;top:567.50px;width:36.75px;height:160.50px"></div><div class="bl" style="left:48.75px;top:658.00px;width:36.75px">13</div><div class="xl" style="left:-95.04px;top:730.51px;width:160px;transform:rotate(-90deg) scaleX(0.9121)">enero</div>
<div class="bar" style="left:100.00px;top:658.00px;width:36.75px;height:70.00px"></div><div class="bl" style="left:100.00px;top:680.00px;width:36.75px">5</div><div class="xl" style="left:-43.79px;top:733.01px;width:160px;transform:rotate(-90deg) scaleX(0.8940)">febrero</div>
<div class="bar" style="left:151.75px;top:651.75px;width:36.25px;height:76.25px"></div><div class="bl" style="left:151.75px;top:663.00px;width:36.25px">6</div><div class="xl" style="left:7.71px;top:731.99px;width:160px;transform:rotate(-90deg) scaleX(0.8800)">marzo</div>
<div class="bar" style="left:203.00px;top:651.75px;width:37.00px;height:76.25px"></div><div class="bl" style="left:203.00px;top:672.00px;width:37.00px">6</div><div class="xl" style="left:59.33px;top:731.99px;width:160px;transform:rotate(-90deg) scaleX(0.8941)">abril</div>
<div class="bar" style="left:254.50px;top:713.00px;width:36.75px;height:15.00px"></div><div class="bl" style="left:254.50px;top:713.75px;width:36.75px">1</div><div class="xl" style="left:110.70px;top:730.39px;width:160px;transform:rotate(-90deg) scaleX(0.8545)">mayo</div>
<div class="bar" style="left:306.25px;top:638.75px;width:36.25px;height:89.25px"></div><div class="bl" style="left:306.25px;top:676.75px;width:36.25px">7</div><div class="xl" style="left:162.20px;top:730.02px;width:160px;transform:rotate(-90deg) scaleX(0.9455)">junio</div>
<div class="bar" style="left:357.50px;top:608.75px;width:36.75px;height:119.25px"></div><div class="bl" style="left:357.50px;top:672.00px;width:36.75px">9</div><div class="xl" style="left:213.70px;top:729.98px;width:160px;transform:rotate(-90deg) scaleX(0.9553)">julio</div>
<div class="bar" style="left:409.25px;top:639.50px;width:36.50px;height:88.50px"></div><div class="bl" style="left:409.25px;top:664.00px;width:36.50px">7</div><div class="xl" style="left:265.33px;top:730.40px;width:160px;transform:rotate(-90deg) scaleX(0.8807)">agosto</div>
<div class="bar" style="left:460.75px;top:658.25px;width:36.25px;height:69.75px"></div><div class="bl" style="left:460.75px;top:680.50px;width:36.25px">5</div><div class="xl" style="left:316.70px;top:734.01px;width:160px;transform:rotate(-90deg) scaleX(0.8984)">septiembre</div>
<div class="bar" style="left:512.50px;top:638.75px;width:36.25px;height:89.25px"></div><div class="bl" style="left:512.50px;top:676.75px;width:36.25px">7</div><div class="xl" style="left:368.45px;top:732.11px;width:160px;transform:rotate(-90deg) scaleX(0.8993)">octubre</div>
<div class="bar" style="left:564.25px;top:704.25px;width:36.50px;height:23.75px"></div><div class="bl" style="left:564.25px;top:708.50px;width:36.50px">2</div><div class="xl" style="left:420.33px;top:732.11px;width:160px;transform:rotate(-90deg) scaleX(0.9042)">noviembre</div>
<div class="bar" style="left:615.75px;top:624.25px;width:36.25px;height:103.75px"></div><div class="bl" style="left:615.75px;top:656.75px;width:36.25px">8</div><div class="xl" style="left:471.70px;top:732.12px;width:160px;transform:rotate(-90deg) scaleX(0.9250)">diciembre</div>
<div class="bar" style="left:667.00px;top:703.25px;width:36.25px;height:24.75px"></div><div class="bl" style="left:667.00px;top:710.50px;width:36.25px">2</div><div class="xl" style="left:522.95px;top:735.02px;width:160px;transform:rotate(-90deg) scaleX(0.9290)">indeterminado</div>
<div class="abs" style="left:723px;top:530px;width:37px;height:259px;background:#fbfaf4"></div>
<div class="abs" style="left:723px;top:639px;width:37px;height:122px;background:#711778"></div>
<div class="abs" style="left:723px;top:761px;width:37px;height:28px;background:#a775a6"></div>
<div class="abs" style="left:772px;top:532px;width:195px;height:257px;border-radius:13px;background:#fdfdf8;overflow:hidden">
 <div class="abs" style="left:0;top:107px;width:195px;height:122px;background:#711778"></div>
 <div class="abs" style="left:0;top:229px;width:195px;height:28px;background:#a775a6"></div>
</div>
<svg class="abs" style="left:790px;top:553px" width="62" height="62" viewBox="-31 -31 62 62"><circle cx="0" cy="0" r="12.6" fill="#711778"/><line x1="0.00" y1="-15.60" x2="0.00" y2="-25.50" stroke="#5f2566" stroke-width="2" stroke-linecap="round"/><line x1="10.15" y1="-11.84" x2="16.59" y2="-19.36" stroke="#5f2566" stroke-width="2" stroke-linecap="round"/><line x1="15.46" y1="-2.12" x2="25.26" y2="-3.46" stroke="#5f2566" stroke-width="2" stroke-linecap="round"/><line x1="13.29" y1="8.17" x2="21.72" y2="13.36" stroke="#5f2566" stroke-width="2" stroke-linecap="round"/><line x1="4.92" y1="14.80" x2="8.05" y2="24.20" stroke="#5f2566" stroke-width="2" stroke-linecap="round"/><line x1="-5.41" y1="14.63" x2="-8.85" y2="23.92" stroke="#5f2566" stroke-width="2" stroke-linecap="round"/><line x1="-13.14" y1="8.40" x2="-21.48" y2="13.74" stroke="#5f2566" stroke-width="2" stroke-linecap="round"/><line x1="-15.58" y1="-0.87" x2="-25.46" y2="-1.42" stroke="#5f2566" stroke-width="2" stroke-linecap="round"/><line x1="-10.91" y1="-11.15" x2="-17.84" y2="-18.22" stroke="#5f2566" stroke-width="2" stroke-linecap="round"/></svg>
<svg class="abs" style="left:790px;top:675px" width="62" height="50" viewBox="790 675 62 50"><path d="M817.3,681.1 A19,19 0 1 0 824.86,716.3 A21.8,21.8 0 0 1 817.3,681.1 Z" fill="#fdf7fd"/><polygon points="840.30,686.90 841.73,690.33 845.44,690.63 842.61,693.05 843.47,696.67 840.30,694.73 837.13,696.67 837.99,693.05 835.16,690.63 838.87,690.33" fill="#fdf7fd"/><polygon points="823.20,694.10 824.39,696.96 827.48,697.21 825.13,699.23 825.85,702.24 823.20,700.62 820.55,702.24 821.27,699.23 818.92,697.21 822.01,696.96" fill="#fdf7fd"/><polygon points="838.50,707.10 840.17,711.11 844.49,711.45 841.20,714.28 842.20,718.50 838.50,716.24 834.80,718.50 835.80,714.28 832.51,711.45 836.83,711.11" fill="#fdf7fd"/></svg>
<div class="t" id="diurno" style="left:866.80px;top:563.75px;font-size:14px;color:#53265a;-webkit-text-stroke:0.3px #53265a;transform:scaleX(1.0960);">Diurno</div>
<div class="t" id="p385" style="left:867.00px;top:585.88px;font-size:20.7px;color:#53265a;-webkit-text-stroke:0.3px #53265a;transform:scaleX(0.9933);">38,5%</div>
<div class="t" id="noct" style="left:866.00px;top:682.18px;font-size:14.2px;color:#fbeefb;-webkit-text-stroke:0.3px #fbeefb;transform:scaleX(1.0865);">Nocturno</div>
<div class="t" id="p462" style="left:866.60px;top:703.02px;font-size:20.3px;color:#fbeefb;-webkit-text-stroke:0.3px #fbeefb;transform:scaleX(1.0076);">46,2%</div>
<div class="t" id="ind1" style="left:791.00px;top:769.73px;font-size:14.5px;color:#f6ebf6;-webkit-text-stroke:0.3px #f6ebf6;transform:scaleX(0.9729);">15,4%</div>
<div class="t" id="ind2" style="left:845.60px;top:769.73px;font-size:14.5px;color:#f6ebf6;-webkit-text-stroke:0.3px #f6ebf6;transform:scaleX(1.0399);">Indeterminado</div>
</body></html>
